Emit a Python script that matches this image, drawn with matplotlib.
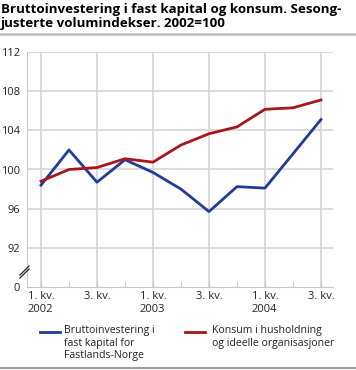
import matplotlib.pyplot as plt
from matplotlib.lines import Line2D

plt.rcParams['font.family'] = ['Open Sans', 'DejaVu Sans']

# Quarters 2002 Q1 .. 2004 Q3
quarters = list(range(11))
tick_labels = ['1. kv.\n2002', '', '3. kv.', '', '1. kv.\n2003', '', '3. kv.', '',
               '1. kv.\n2004', '', '3. kv.']
investering = [98.4, 102.0, 98.7, 101.0, 99.7, 98.0, 95.7, 98.25, 98.1, 101.6, 105.1]
konsum = [98.8, 100.0, 100.2, 101.1, 100.75, 102.5, 103.65, 104.35, 106.15, 106.3, 107.1]
y_ticks = [88, 92, 96, 100, 104, 108, 112]
y_tick_labels = ['0', '92', '96', '100', '104', '108', '112']

blue = '#1f3c96'
red = '#a8161c'
grid = '#d4d4d4'

fig = plt.figure(figsize=(3.56, 3.70), dpi=100)
ax = fig.add_axes([27 / 356, 1 - 287 / 370, 306 / 356, 235 / 370])

ax.plot(quarters, investering, color=blue, lw=2, zorder=3)
ax.plot(quarters, konsum, color=red, lw=2, zorder=3)

ax.set_xlim(-0.5, 10.43)
ax.set_ylim(88, 112)
ax.set_yticks(y_ticks)
ax.set_yticklabels(y_tick_labels)
ax.set_xticks(quarters)
ax.set_xticklabels(tick_labels, ha='center', va='top')

for y in y_ticks[1:]:
    ax.axhline(y, color=grid, lw=1.2, zorder=1)
for x in quarters[::2]:
    ax.axvline(x, color=grid, lw=1.2, zorder=1)

for s in ['top', 'right']:
    ax.spines[s].set_visible(False)
ax.spines['left'].set_color('#c8c8c8')
ax.spines['bottom'].set_color('#c8c8c8')
ax.tick_params(axis='y', length=0, labelsize=8, pad=5, colors='#222222')
ax.tick_params(axis='x', direction='in', length=4, color='#c8c8c8',
               labelsize=8, pad=3, colors='#222222')
for lbl in ax.get_xticklabels():
    lbl.set_multialignment('left')

# axis break marks
for dy in (0, 3):
    fig.add_artist(Line2D([20 / 356, 29 / 356],
                          [1 - (275 + dy) / 370, 1 - (266 + dy) / 370],
                          color='#222222', lw=0.9))

fig.text(1 / 356, 1 - 3 / 370,
         'Bruttoinvestering i fast kapital og konsum. Sesong-\njusterte volumindekser. 2002=100',
         fontsize=9.6, fontweight='bold', va='top', ha='left', linespacing=1.1)
fig.add_artist(Line2D([0, 1], [1 - 34 / 370, 1 - 34 / 370], color='#c0c0c0', lw=1.8))
fig.add_artist(Line2D([0, 1], [1 - 368 / 370, 1 - 368 / 370], color='#888888', lw=1.2))

# legend
fig.add_artist(Line2D([40 / 356, 60 / 356], [1 - 332 / 370, 1 - 332 / 370], color=blue, lw=2))
fig.text(64 / 356, 1 - 325 / 370, 'Bruttoinvestering i\nfast kapital for\nFastlands-Norge',
         fontsize=7.6, va='top', ha='left', linespacing=1.2, color='#222222')
fig.add_artist(Line2D([185 / 356, 205 / 356], [1 - 332 / 370, 1 - 332 / 370], color=red, lw=2))
fig.text(212 / 356, 1 - 325 / 370, 'Konsum i husholdning\nog ideelle organisasjoner',
         fontsize=7.6, va='top', ha='left', linespacing=1.2, color='#222222')

fig.savefig('out.png', dpi=100)
